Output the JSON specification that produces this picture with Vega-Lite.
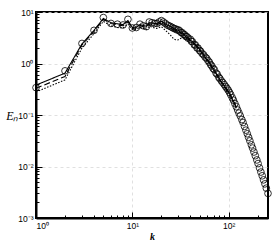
{
  "$schema": "https://vega.github.io/schema/vega-lite/v6.json",
  "width": 232,
  "height": 206,
  "autosize": {"type": "none"},
  "padding": {"left": 36, "top": 12, "right": 6, "bottom": 26},
  "config": {
    "view": {"stroke": "#000", "strokeWidth": 2},
    "axis": {"labelFont": "Liberation Sans", "labelFontSize": 8.5, "labelColor": "#000", "tickColor": "#000", "domainColor": "#000"}
  },
  "datasets": {
    "circles": [
      {"k":1,"E":0.34},{"k":2,"E":0.72},{"k":3,"E":2.45},{"k":4,"E":4.4},{"k":5,"E":7.8},{"k":6,"E":6.0},{"k":7,"E":5.8},{"k":8,"E":5.6},{"k":9,"E":7.2},{"k":10,"E":4.9},
      {"k":11,"E":5.0},{"k":12,"E":5.8},{"k":13,"E":5.4},{"k":14,"E":5.2},{"k":15,"E":6.4},{"k":16,"E":6.2},{"k":17,"E":6.0},{"k":18,"E":6.0},{"k":19,"E":6.4},{"k":20,"E":6.8},
      {"k":21,"E":6.4},{"k":22,"E":6.0},{"k":23,"E":5.6},{"k":24,"E":5.4},{"k":25,"E":5.2},{"k":26,"E":5.0},{"k":27,"E":4.8},{"k":28,"E":4.7},{"k":29,"E":4.5},{"k":30,"E":4.5},
      {"k":31,"E":4.3},{"k":32,"E":4.0},{"k":33,"E":3.95},{"k":34,"E":3.7},{"k":35,"E":3.6},{"k":36,"E":3.35},{"k":37,"E":3.3},{"k":38,"E":3.1},{"k":40,"E":2.95},{"k":41,"E":2.7},
      {"k":42,"E":2.65},{"k":44,"E":2.3},{"k":45,"E":2.3},{"k":47,"E":2.0},{"k":48,"E":2.0},{"k":50,"E":1.78},{"k":51,"E":1.74},{"k":53,"E":1.56},{"k":55,"E":1.47},{"k":57,"E":1.33},
      {"k":59,"E":1.26},{"k":61,"E":1.14},{"k":63,"E":1.06},{"k":65,"E":0.95},{"k":67,"E":0.89},{"k":69,"E":0.8},{"k":71,"E":0.76},{"k":74,"E":0.65},{"k":76,"E":0.62},{"k":79,"E":0.54},
      {"k":81,"E":0.51},{"k":84,"E":0.46},{"k":87,"E":0.425},{"k":90,"E":0.39},{"k":93,"E":0.357},{"k":96,"E":0.329},{"k":99,"E":0.303},{"k":102,"E":0.275},{"k":105,"E":0.248},{"k":109,"E":0.216},
      {"k":112,"E":0.194},{"k":116,"E":0.167},{"k":120,"E":0.145},{"k":124,"E":0.125},{"k":128,"E":0.109},{"k":132,"E":0.0958},{"k":137,"E":0.0815},{"k":141,"E":0.0715},{"k":146,"E":0.06},{"k":151,"E":0.0508},
      {"k":156,"E":0.0432},{"k":161,"E":0.0368},{"k":166,"E":0.0315},{"k":172,"E":0.0263},{"k":177,"E":0.0228},{"k":183,"E":0.0191},{"k":189,"E":0.0162},{"k":196,"E":0.0134},{"k":202,"E":0.0114},{"k":209,"E":0.0094},
      {"k":216,"E":0.0078},{"k":223,"E":0.0066},{"k":230,"E":0.0055},{"k":238,"E":0.0046},{"k":246,"E":0.0038},{"k":256,"E":0.003}
    ],
    "lines": [
      {"s":"a","k":1,"E":0.38},{"s":"a","k":2,"E":0.65},{"s":"a","k":3,"E":2.4},{"s":"a","k":4,"E":4.4},{"s":"a","k":5,"E":7.5},{"s":"a","k":6,"E":6.2},{"s":"a","k":7,"E":5.9},{"s":"a","k":8,"E":5.7},{"s":"a","k":9,"E":6.8},{"s":"a","k":10,"E":5.0},
      {"s":"a","k":11,"E":5.1},{"s":"a","k":12,"E":5.7},{"s":"a","k":13,"E":5.5},{"s":"a","k":14,"E":5.3},{"s":"a","k":15,"E":6.2},{"s":"a","k":16,"E":6.1},{"s":"a","k":17,"E":6.0},{"s":"a","k":18,"E":5.9},{"s":"a","k":19,"E":6.3},{"s":"a","k":20,"E":6.6},
      {"s":"a","k":21,"E":6.3},{"s":"a","k":22,"E":5.9},{"s":"a","k":23,"E":5.6},{"s":"a","k":24,"E":5.4},{"s":"a","k":25,"E":5.2},{"s":"a","k":26,"E":5.0},{"s":"a","k":27,"E":4.8},{"s":"a","k":28,"E":4.6},{"s":"a","k":29,"E":4.5},{"s":"a","k":30,"E":4.4},
      {"s":"a","k":32,"E":4.0},{"s":"a","k":34,"E":3.8},{"s":"a","k":36,"E":3.3},{"s":"a","k":38,"E":3.2},{"s":"a","k":40,"E":2.8},{"s":"a","k":43,"E":2.6},{"s":"a","k":46,"E":2.2},{"s":"a","k":49,"E":2.0},{"s":"a","k":52,"E":1.65},{"s":"a","k":55,"E":1.52},
      {"s":"a","k":58,"E":1.25},{"s":"a","k":62,"E":1.12},{"s":"a","k":66,"E":0.9},{"s":"a","k":70,"E":0.79},{"s":"a","k":74,"E":0.64},{"s":"a","k":78,"E":0.56},{"s":"a","k":83,"E":0.45},{"s":"a","k":88,"E":0.4},{"s":"a","k":93,"E":0.34},{"s":"a","k":98,"E":0.3},
      {"s":"a","k":104,"E":0.25},{"s":"a","k":110,"E":0.2},{"s":"a","k":116,"E":0.165},{"s":"a","k":120,"E":0.14},
      {"s":"b","k":1,"E":0.33},{"s":"b","k":2,"E":0.56},{"s":"b","k":3,"E":2.3},{"s":"b","k":4,"E":4.2},{"s":"b","k":5,"E":7.2},{"s":"b","k":6,"E":6.0},{"s":"b","k":7,"E":5.6},{"s":"b","k":8,"E":5.4},{"s":"b","k":9,"E":6.5},{"s":"b","k":10,"E":4.8},
      {"s":"b","k":11,"E":4.9},{"s":"b","k":12,"E":5.5},{"s":"b","k":13,"E":5.2},{"s":"b","k":14,"E":5.0},{"s":"b","k":15,"E":5.9},{"s":"b","k":16,"E":5.8},{"s":"b","k":17,"E":5.7},{"s":"b","k":18,"E":5.6},{"s":"b","k":19,"E":6.0},{"s":"b","k":20,"E":6.2},
      {"s":"b","k":21,"E":5.9},{"s":"b","k":22,"E":5.5},{"s":"b","k":23,"E":5.2},{"s":"b","k":24,"E":5.0},{"s":"b","k":25,"E":4.9},{"s":"b","k":26,"E":4.7},{"s":"b","k":27,"E":4.5},{"s":"b","k":28,"E":4.4},{"s":"b","k":29,"E":4.3},{"s":"b","k":30,"E":4.2},
      {"s":"b","k":32,"E":3.9},{"s":"b","k":34,"E":3.6},{"s":"b","k":36,"E":3.3},{"s":"b","k":38,"E":3.05},{"s":"b","k":40,"E":2.8},{"s":"b","k":43,"E":2.5},{"s":"b","k":46,"E":2.25},{"s":"b","k":49,"E":1.9},{"s":"b","k":52,"E":1.68},{"s":"b","k":55,"E":1.45},
      {"s":"b","k":58,"E":1.25},{"s":"b","k":62,"E":1.08},{"s":"b","k":66,"E":0.9},{"s":"b","k":70,"E":0.75},{"s":"b","k":74,"E":0.64},{"s":"b","k":78,"E":0.54},{"s":"b","k":83,"E":0.45},{"s":"b","k":88,"E":0.38},{"s":"b","k":93,"E":0.33},{"s":"b","k":98,"E":0.29},
      {"s":"b","k":104,"E":0.24},{"s":"b","k":110,"E":0.19},{"s":"b","k":116,"E":0.16},{"s":"b","k":120,"E":0.14},
      {"s":"c","k":1,"E":0.28},{"s":"c","k":2,"E":0.48},{"s":"c","k":3,"E":2.0},{"s":"c","k":4,"E":3.8},{"s":"c","k":5,"E":6.6},{"s":"c","k":6,"E":5.4},{"s":"c","k":7,"E":5.0},{"s":"c","k":8,"E":4.9},{"s":"c","k":9,"E":5.8},{"s":"c","k":10,"E":4.6},
      {"s":"c","k":11,"E":4.6},{"s":"c","k":12,"E":5.0},{"s":"c","k":13,"E":4.8},{"s":"c","k":14,"E":4.6},{"s":"c","k":15,"E":5.3},{"s":"c","k":16,"E":5.1},{"s":"c","k":17,"E":4.9},{"s":"c","k":18,"E":4.8},{"s":"c","k":19,"E":5.0},{"s":"c","k":20,"E":5.2},
      {"s":"c","k":21,"E":4.8},{"s":"c","k":22,"E":4.4},{"s":"c","k":23,"E":4.1},{"s":"c","k":24,"E":3.8},{"s":"c","k":25,"E":3.5},{"s":"c","k":26,"E":3.2},{"s":"c","k":27,"E":3.0},{"s":"c","k":28,"E":2.9},{"s":"c","k":29,"E":2.85},{"s":"c","k":30,"E":2.9},
      {"s":"c","k":32,"E":3.1},{"s":"c","k":34,"E":3.2},{"s":"c","k":36,"E":3.1},{"s":"c","k":38,"E":2.9},{"s":"c","k":40,"E":2.7},{"s":"c","k":43,"E":2.4},{"s":"c","k":46,"E":2.15},{"s":"c","k":49,"E":1.85},{"s":"c","k":52,"E":1.62},{"s":"c","k":55,"E":1.42},
      {"s":"c","k":58,"E":1.22},{"s":"c","k":62,"E":1.05},{"s":"c","k":66,"E":0.88},{"s":"c","k":70,"E":0.73},{"s":"c","k":74,"E":0.62},{"s":"c","k":78,"E":0.52},{"s":"c","k":83,"E":0.44},{"s":"c","k":88,"E":0.37},{"s":"c","k":93,"E":0.32},{"s":"c","k":98,"E":0.28},
      {"s":"c","k":104,"E":0.23},{"s":"c","k":110,"E":0.19},{"s":"c","k":116,"E":0.155},{"s":"c","k":120,"E":0.135}
    ]
  },
  "resolve": {"axis": {"x": "independent", "y": "independent"}},
  "layer": [
    {
      "data": {"name": "circles"},
      "mark": {"type": "point", "shape": "circle", "filled": false, "stroke": "#000", "strokeWidth": 0.8, "size": 45, "opacity": 1},
      "encoding": {
        "x": {"field": "k", "type": "quantitative", "scale": {"type": "log", "domain": [1, 256], "nice": false},
          "axis": {"orient": "bottom", "values": [1, 10, 100], "grid": true, "gridDash": [3, 3], "gridColor": "#d8d8d8", "gridWidth": 0.8,
            "tickSize": -6, "tickWidth": 1, "labelPadding": 9, "domain": true, "domainWidth": 2,
            "labelExpr": "datum.value < 5 ? '10⁰' : datum.value < 50 ? '10¹' : '10²'",
            "title": "k", "titleFont": "Liberation Serif", "titleFontStyle": "italic", "titleFontWeight": "bold", "titleFontSize": 10, "titlePadding": 2}},
        "y": {"field": "E", "type": "quantitative", "scale": {"type": "log", "domain": [0.001, 10], "nice": false},
          "axis": {"orient": "left", "values": [0.001, 0.01, 0.1, 1, 10], "grid": true, "gridDash": [3, 3], "gridColor": "#d8d8d8", "gridWidth": 0.8,
            "tickSize": -6, "tickWidth": 1, "labelPadding": 9, "domain": true, "domainWidth": 2,
            "labelExpr": "datum.value < 0.005 ? '10⁻³' : datum.value < 0.05 ? '10⁻²' : datum.value < 0.5 ? '10⁻¹' : datum.value < 5 ? '10⁰' : '10¹'",
            "title": "Eₙ", "titleAngle": 0, "titleFont": "Liberation Serif", "titleFontStyle": "italic", "titleFontWeight": "normal", "titleFontSize": 12,
            "titleX": -18, "titleY": 103, "titleAlign": "right", "titleBaseline": "middle"}}
      }
    },
    {
      "data": {"name": "lines"},
      "mark": {"type": "line", "stroke": "#000", "strokeWidth": 1.1},
      "encoding": {
        "x": {"field": "k", "type": "quantitative", "scale": {"type": "log", "domain": [1, 256], "nice": false},
          "axis": {"orient": "bottom", "values": [2,3,4,5,6,7,8,9,20,30,40,50,60,70,80,90,200], "grid": false, "tickSize": -3, "tickWidth": 1, "labels": false, "domain": false, "title": null}},
        "y": {"field": "E", "type": "quantitative", "scale": {"type": "log", "domain": [0.001, 10], "nice": false},
          "axis": {"orient": "left", "values": [0.002,0.003,0.004,0.005,0.006,0.007,0.008,0.009,0.02,0.03,0.04,0.05,0.06,0.07,0.08,0.09,0.2,0.3,0.4,0.5,0.6,0.7,0.8,0.9,2,3,4,5,6,7,8,9], "grid": false, "tickSize": -3, "tickWidth": 1, "labels": false, "domain": false, "title": null}},
        "detail": {"field": "s", "type": "nominal"},
        "strokeDash": {"field": "s", "type": "nominal", "scale": {"domain": ["a", "b", "c"], "range": [[1, 0], [6, 3], [1.5, 1.5]]}, "legend": null}
      }
    }
  ]
}
